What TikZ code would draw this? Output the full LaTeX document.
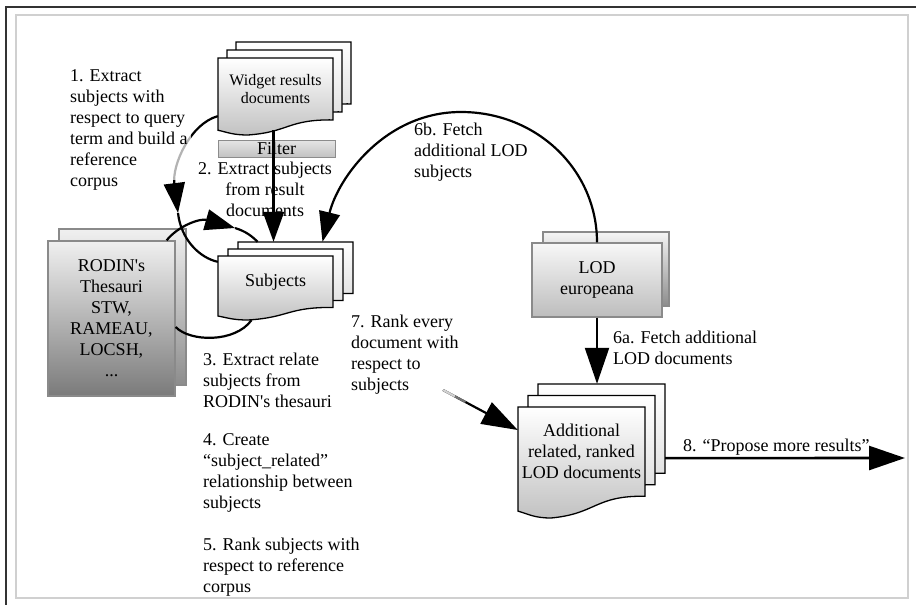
\documentclass[tikz,border=0pt]{standalone}
\usepackage{fontspec}
\setmainfont{Liberation Serif}
\usetikzlibrary{arrows.meta,calc}

\definecolor{framedark}{HTML}{333333}
\definecolor{framelight}{HTML}{D0D0D0}
\definecolor{boxedge}{HTML}{8A8A8A}

\tikzset{
  frontpage/.style={draw=black, line width=1.3pt, top color=white, bottom color=black!24},
  backpage/.style={draw=black, line width=1.3pt, top color=white, bottom color=black!14},
  bodytext/.style={inner sep=0pt, align=center, font=\fontsize{18}{21}\selectfont},
  lbl/.style={inner sep=0pt, align=left, anchor=west, font=\fontsize{18}{21}\selectfont},
  graybox/.style={draw=boxedge, line width=1.3pt, inner sep=0pt, align=center,
                  font=\fontsize{18}{21}\selectfont},
  conn/.style={line width=2.2pt, black},
  tip/.style={-{Triangle[length=30pt,width=21pt]}},
  bigtip/.style={-{Triangle[length=36pt,width=24pt]}},
}

% one page with a wavy bottom edge: style, x0, y0, width, height
\newcommand\docpage[5]{%
  \path[#1] ({#2},{#3}) -- ({#2+#4},{#3}) -- ({#2+#4},{#3+0.804*#5})
    .. controls ({#2+0.604*#4},{#3+0.797*#5}) and ({#2+0.618*#4},{#3+0.962*#5}) .. ({#2+0.26*#4},{#3+#5})
    .. controls ({#2+0.132*#4},{#3+#5}) and ({#2+0.086*#4},{#3+0.967*#5}) .. ({#2},{#3+0.938*#5}) -- cycle;}

% a stack of three pages: name, x0, y0, width, height, dx, dy, font, text
\newcommand\docstack[9]{%
  \docpage{backpage}{#2+2*(#6)}{#3+2*(#7)}{#4}{#5}
  \docpage{backpage}{#2+#6}{#3+#7}{#4}{#5}
  \docpage{frontpage}{#2}{#3}{#4}{#5}
  \node[bodytext, font=#8, minimum width=#4, minimum height={0.804*#5}] (#1)
    at ({#2+#4/2},{#3+0.402*#5}) {#9};}

\begin{document}
\begin{tikzpicture}[x=1pt,y=-1pt]
\useasboundingbox (0,0) rectangle (916,605);
\fill[white] (0,0) rectangle (916,605);

% frame
\draw[framelight, line width=1.5pt] (16,15) rectangle (908,598);
\draw[framedark, line width=1.5pt] (6,605) -- (6,7) -- (916,7);

% document stacks
\docstack{widget}{218}{58}{115}{77}{9}{-8}{\fontsize{16}{18}\selectfont}{Widget results\\documents}
\docstack{subj}{218}{256}{115}{64}{10}{-7}{\fontsize{18}{21}\selectfont}{Subjects}
\docstack{addl}{518}{407}{127}{111}{10}{-11.5}{\fontsize{18}{21}\selectfont}{Additional\\related, ranked\\LOD documents}

% thesauri
\path[draw=boxedge, line width=1.3pt, top color=black!6, bottom color=black!45] (59,229) rectangle (186,385);
\node[graybox, top color=black!6, bottom color=black!52, minimum width=127, minimum height=155]
  (rodin) at (111.5,318.5) {RODIN\textquotesingle s\\Thesauri\\STW,\\RAMEAU,\\LOCSH,\\...};

% LOD source
\path[draw=boxedge, line width=1.3pt, top color=black!4, bottom color=black!45] (543,232) rectangle (669,306);
\node[graybox, top color=black!3, bottom color=black!26, minimum width=130, minimum height=74]
  (lod) at (597,280) {LOD\\europeana};

% filter bar
\node[draw=black!45, line width=1pt, top color=black!10, bottom color=black!24, inner sep=0pt,
      font=\fontsize{18}{21}\selectfont, minimum width=117, minimum height=17]
  (filter) at (276.5,148.5) {Filter};

% step 1: widget results to subjects
\coordinate (bend1) at (178,213);
\draw[conn, tip] ([shift={(0,-4)}]widget.south west) .. controls (190,124) and (172,165) .. (bend1);
\draw[conn] (bend1) .. controls (181,240) and (200,258) .. ([shift={(0,6)}]subj.north west);
\fill[white, opacity=0.7] (66,64) rectangle (191,180);

% step labels
\node[lbl] (l1) at (70,130) {1. Extract\\subjects with\\respect to query\\term and build a\\reference\\corpus};
\node[bodytext] (l2) at (265,189) {2. Extract subjects\\from result\\documents};
\node[lbl] (l3) at (203,380) {3. Extract relate\\subjects from\\RODIN\textquotesingle s thesauri};
\node[lbl] (l4) at (203,473) {4. Create\\“subject\_related”\\relationship between\\subjects};
\node[lbl] (l5) at (203,567.5) {5. Rank subjects with\\respect to reference\\corpus};
\node[lbl] (l6a) at (613,348) {6a. Fetch additional\\LOD documents};
\node[lbl] (l6b) at (414,152.5) {6b. Fetch\\additional LOD\\subjects};
\node[lbl] (l7) at (351,355) {7. Rank every\\document with\\respect to\\subjects};
\node[lbl] (l8) at (683,447) {8. “Propose more results”};

% step 2: through the filter
\draw[conn, tip] ([shift={(-2,10)}]widget.south) -- ([shift={(-2,-14)}]subj.north);

% step 3: thesauri and subjects
\coordinate (bend2) at (235,228);
\draw[conn, tip] ([shift={(-9,0)}]rodin.north east) .. controls (178,226) and (200,218) .. (bend2);
\draw[conn] (bend2) .. controls (245,231) and (252,236) .. ([shift={(-18,-14)}]subj.north);
\draw[conn] ([shift={(0,8.5)}]rodin.east) .. controls (190,342) and (235,343) .. ([shift={(-24,12.5)}]subj.south);

% step 6b: LOD subjects back to the subjects
\draw[conn, tip] (lod.north) .. controls (597,170) and (537,112) .. (461,112)
  .. controls (385,112) and (338,178) .. ([shift={(47,-14)}]subj.north);

% step 6a: LOD documents
\draw[conn, bigtip] (lod.south) -- ([shift={(15.5,-23)}]addl.north);

% step 7: ranking
\coordinate (s7) at (443,390);
\coordinate (t7) at ([shift={(0,-21.6)}]addl.west);
\draw[conn, bigtip] (s7) -- (t7);
\draw[line width=2.2pt, black!18] (s7) -- ($(s7)!0.16!(t7)$);
\draw[line width=2.2pt, black!55] ($(s7)!0.16!(t7)$) -- ($(s7)!0.3!(t7)$);

% step 8: propose more results
\coordinate (e8) at (905,458);
\draw[line width=2.6pt, bigtip] ([shift={(20,6.5)}]addl.east) -- (e8);
\end{tikzpicture}
\end{document}
